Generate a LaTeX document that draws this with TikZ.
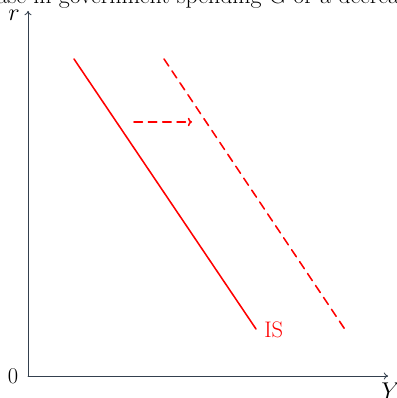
\documentclass[tikz,border=0pt]{standalone}
\usepackage{xcolor}
\usetikzlibrary{arrows.meta,positioning}
\definecolor{ISRed}{HTML}{FF0000}
\definecolor{AxisInk}{HTML}{34404E}

\begin{document}
\begin{tikzpicture}[x=0.025cm,y=0.025cm,line cap=round,line join=round,
    font=\fontsize{16}{19}\selectfont,
    axisline/.style={AxisInk,line width=0.6pt,-{To[length=3pt,width=5pt]}},
    curveline/.style={ISRed,line width=1.1pt},
    shiftline/.style={ISRed,line width=1.1pt,dash pattern=on 6pt off 4.2pt}]
  \path[use as bounding box] (0,0) rectangle (396,398);

  % Caption, cut off by the page edges.
  \node[anchor=base,inner sep=0pt,font=\fontsize{17}{20}\selectfont]
    (caption) at (198,394) {ase in government spending G or a decrea};

  % Axes.
  \coordinate (origin) at (28,22);
  \coordinate (rtop) at (28,387);
  \coordinate (Yend) at (388,22);
  \draw[axisline] (origin)--(rtop);
  \draw[axisline] (origin)--(Yend);
  \node[inner sep=0pt] (rlabel) at (14,383) {$r$};
  \node[inner sep=0pt] (zero) at (13,22) {0};
  \node[inner sep=0pt] (Ylabel) at (391,7) {$Y$};

  % IS curve and its shifted copy.
  \coordinate (ISa) at (74,339);
  \coordinate (ISb) at (256,69);
  \coordinate (ISc) at (164,339);
  \coordinate (ISd) at (346,67);
  \draw[curveline] (ISa)--(ISb);
  \node[ISRed,anchor=west,inner sep=0pt] (islabel) at (264,68) {IS};
  \draw[shiftline] (ISc)--(ISd);

  \coordinate (shiftfrom) at (134,276);
  \coordinate (shiftto) at (192,276);
  \draw[shiftline,-{To[length=3pt,width=6pt]}] (shiftfrom)--(shiftto);
\end{tikzpicture}
\end{document}
